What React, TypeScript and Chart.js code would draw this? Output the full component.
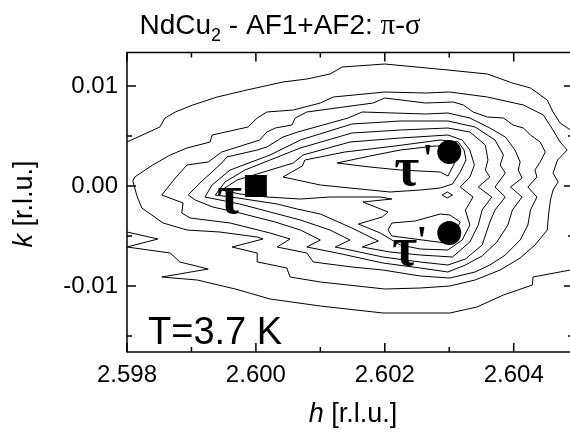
import React, { useEffect, useRef } from "react";
import { Chart, registerables } from "chart.js";

Chart.register(...registerables);

type P = [number, number];

// axes
const hLimits: P = [2.598, 2.60492];
const kLimits: P = [-0.0166, 0.01335];
const hTickValues = [2.598, 2.6, 2.602, 2.604];
const kTickValues = [-0.01, 0, 0.01];
const hMinorTicks = [2.599, 2.601, 2.603];
const kMinorTicks = [-0.015, -0.005, 0.005];

// marked reflections
const tauPoint: P[] = [[2.6, 0.0]];
const tauPrimePoints: P[] = [[2.603, 0.0034], [2.603, -0.0047]];

// texts
const titleMain = "NdCu";
const titleSub = "2";
const titleRest = " - AF1+AF2: ";
const titleGreek = "\u03c0-\u03c3";
const xTitleVar = "h";
const yTitleVar = "k";
const axisUnit = " [r.l.u.]";
const tempLabel = "T=3.7 K";

// contour lines (h, k), outermost first
const contour1Top: P[] = [[2.598,0.0044],[2.59851,0.0059],[2.59859,0.0068],[2.59875,0.0074],[2.59902,0.0081],[2.5994,0.0089],[2.59986,0.0096],[2.60042,0.0104],[2.60079,0.0107],[2.60115,0.0112],[2.60134,0.0119],[2.602,0.0122],[2.60298,0.0116],[2.60359,0.0112],[2.60398,0.0103],[2.60426,0.0098],[2.60452,0.0086],[2.60461,0.0074],[2.60472,0.0063],[2.60488,0.0056],[2.60495,0.0051]];
const contour1Bottom: P[] = [[2.60495,-0.0082],[2.60488,-0.0084],[2.6043,-0.0091],[2.60429,-0.0099],[2.60384,-0.0109],[2.60343,-0.0121],[2.60301,-0.0127],[2.60197,-0.0127],[2.601,-0.012],[2.60022,-0.0113],[2.59968,-0.0103],[2.59909,-0.0094],[2.59854,-0.0091],[2.59926,-0.0083],[2.59882,-0.0076],[2.59867,-0.0067],[2.598,-0.0061],[2.59848,-0.0053],[2.598,-0.0046]];
const contour2: P[] = [[2.59809,0.0005],[2.59812,0.0009],[2.5984,0.0021],[2.59867,0.0031],[2.59893,0.0038],[2.59929,0.0044],[2.59932,0.0051],[2.59988,0.0059],[2.60002,0.0068],[2.60017,0.0074],[2.60058,0.0076],[2.601,0.0083],[2.6012,0.0089],[2.602,0.0094],[2.60263,0.0093],[2.60301,0.0094],[2.60359,0.0089],[2.60415,0.0081],[2.60446,0.0071],[2.60461,0.0056],[2.60472,0.0044],[2.60483,0.0036],[2.60468,0.0026],[2.60461,0.0013],[2.60469,0.0004],[2.60461,-0.0004],[2.60457,-0.0014],[2.60454,-0.0029],[2.60452,-0.0044],[2.60433,-0.0059],[2.6041,-0.0072],[2.60379,-0.0084],[2.6034,-0.0094],[2.60301,-0.01],[2.60255,-0.0102],[2.602,-0.0103],[2.601,-0.0096],[2.60053,-0.0091],[2.60048,-0.0082],[2.60003,-0.0076],[2.60002,-0.0067],[2.59963,-0.0061],[2.60011,-0.0053],[2.60002,-0.0051],[2.59944,-0.0046],[2.59893,-0.0044],[2.59856,-0.0037],[2.59823,-0.0022],[2.59816,-0.0011],[2.59809,0.0005]];
const contour3: P[] = [[2.59854,-0.0009],[2.59875,0.0008],[2.59893,0.0021],[2.59926,0.0024],[2.59947,0.0034],[2.60006,0.0046],[2.60017,0.0054],[2.6003,0.0058],[2.60056,0.0061],[2.60061,0.0068],[2.60079,0.0074],[2.60182,0.0083],[2.602,0.0088],[2.60263,0.0083],[2.60306,0.0084],[2.60322,0.0081],[2.60337,0.0074],[2.60359,0.0069],[2.60384,0.0068],[2.60399,0.0061],[2.60415,0.0058],[2.60426,0.0051],[2.60441,0.0044],[2.60449,0.0034],[2.60441,0.0024],[2.60433,0.0016],[2.60436,0.0009],[2.60422,-0.0001],[2.60436,-0.0011],[2.60426,-0.0024],[2.60422,-0.0039],[2.6041,-0.0054],[2.60387,-0.0069],[2.60363,-0.0079],[2.6034,-0.0086],[2.60301,-0.0092],[2.60255,-0.009],[2.60197,-0.0084],[2.60149,-0.0081],[2.60089,-0.0076],[2.60079,-0.0067],[2.60033,-0.0061],[2.60053,-0.0053],[2.60022,-0.0047],[2.5996,-0.0037],[2.59898,-0.0032],[2.59885,-0.0027],[2.59887,-0.0017],[2.59854,-0.0009]];
const contour4: P[] = [[2.59895,-0.0009],[2.59913,0.0003],[2.59932,0.0014],[2.59947,0.0023],[2.59955,0.0029],[2.60002,0.0036],[2.60017,0.0039],[2.60042,0.0049],[2.60065,0.0054],[2.60143,0.0068],[2.60165,0.0074],[2.60263,0.0072],[2.60298,0.0073],[2.60332,0.0068],[2.60363,0.0058],[2.60387,0.0049],[2.60402,0.0036],[2.6041,0.0024],[2.60407,0.0016],[2.60413,0.0008],[2.60395,-0.0001],[2.60413,-0.0011],[2.60398,-0.0024],[2.60391,-0.0039],[2.60374,-0.0056],[2.60351,-0.007],[2.60325,-0.0079],[2.60298,-0.0086],[2.60255,-0.0082],[2.60197,-0.0077],[2.60126,-0.0067],[2.60079,-0.0061],[2.601,-0.0054],[2.60069,-0.0044],[2.6003,-0.0036],[2.59975,-0.0027],[2.59933,-0.0021],[2.59906,-0.0014],[2.59895,-0.0009]];
const contour5: P[] = [[2.59921,-0.0011],[2.59932,0.0001],[2.5996,0.0016],[2.60022,0.0031],[2.60069,0.0046],[2.60149,0.0062],[2.60224,0.0065],[2.60298,0.0065],[2.6034,0.0059],[2.60371,0.0046],[2.60384,0.0031],[2.60379,0.0021],[2.60387,0.0013],[2.60371,-0.0001],[2.60387,-0.0011],[2.60371,-0.0024],[2.60363,-0.0036],[2.60351,-0.0059],[2.60325,-0.0073],[2.60298,-0.0079],[2.60255,-0.0076],[2.60197,-0.0071],[2.60146,-0.0064],[2.60123,-0.0061],[2.60146,-0.0054],[2.60115,-0.0044],[2.60069,-0.0034],[2.60022,-0.0026],[2.59975,-0.0018],[2.59921,-0.0011]];
const contour6: P[] = [[2.59937,-0.0009],[2.59952,0.0004],[2.59983,0.0016],[2.60022,0.0026],[2.60069,0.0038],[2.60149,0.0053],[2.60224,0.0056],[2.60298,0.0058],[2.60332,0.0054],[2.60356,0.0041],[2.6036,0.0026],[2.60356,0.0016],[2.60363,0.0009],[2.60345,-0.0001],[2.60366,-0.0011],[2.60351,-0.0024],[2.60345,-0.0039],[2.60332,-0.0056],[2.60305,-0.0071],[2.60255,-0.0069],[2.60208,-0.0066],[2.60165,-0.0061],[2.6019,-0.0055],[2.60149,-0.0042],[2.601,-0.0028],[2.60064,-0.0023],[2.60033,-0.0018],[2.59972,-0.0012],[2.59937,-0.0009]];
const contour7: P[] = [[2.59947,-0.0004],[2.59971,0.0006],[2.60058,0.0023],[2.60073,0.0031],[2.60146,0.0044],[2.60224,0.0048],[2.60298,0.0051],[2.6032,0.0046],[2.60332,0.0036],[2.60339,0.0021],[2.60332,0.0009],[2.60317,-0.0001],[2.60337,-0.0011],[2.60325,-0.0024],[2.60332,-0.0039],[2.6032,-0.0054],[2.60298,-0.0064],[2.60255,-0.0063],[2.60224,-0.0059],[2.60193,-0.0047],[2.60159,-0.0038],[2.60196,-0.0031],[2.60205,-0.0026],[2.60166,-0.0016],[2.60211,-0.0013],[2.60193,-0.0011],[2.60115,-0.0011],[2.60069,-0.0013],[2.60017,-0.0011],[2.59975,-0.0008],[2.59947,-0.0004]];
const contour8: P[] = [[2.60042,0.0009],[2.60072,0.002],[2.60076,0.0026],[2.60138,0.0034],[2.60216,0.004],[2.60286,0.0046],[2.60314,0.0044],[2.60323,0.0036],[2.60326,0.0026],[2.60317,0.0014],[2.60305,0.0002],[2.60286,-0.0002],[2.60255,-0.0004],[2.60208,-0.0006],[2.60146,-0.0002],[2.601,0.0001],[2.60042,0.0009]];
const contour9Upper: P[] = [[2.60126,0.0023],[2.60177,0.003],[2.60224,0.0036],[2.60278,0.004],[2.60305,0.004],[2.60314,0.0034],[2.60309,0.0024],[2.60298,0.001],[2.60286,0.0014],[2.60224,0.0016],[2.60177,0.0019],[2.60126,0.0023]];
const contour9Lower: P[] = [[2.60205,-0.0044],[2.60211,-0.0037],[2.60247,-0.0035],[2.60286,-0.0028],[2.60301,-0.0029],[2.60317,-0.0036],[2.60309,-0.0046],[2.60309,-0.0054],[2.60294,-0.0057],[2.60211,-0.005],[2.60205,-0.0044]];
const contourSaddle: P[] = [[2.60289,-0.0009],[2.60297,-0.0006],[2.60305,-0.0009],[2.60297,-0.0012],[2.60289,-0.0009]];

const contours: P[][] = [contour1Top, contour1Bottom, contour2, contour3, contour4, contour5, contour6, contour7, contour8, contour9Upper, contour9Lower, contourSaddle];

const SANS = '"Liberation Sans", Arial, sans-serif';
const SERIF = '"Liberation Serif", "Times New Roman", serif';

function drawInk(ctx: CanvasRenderingContext2D, text: string, font: string, left: number, top: number) {
  ctx.font = font;
  ctx.textAlign = "left";
  ctx.textBaseline = "alphabetic";
  const m = ctx.measureText(text);
  ctx.fillText(text, left + m.actualBoundingBoxLeft, top + m.actualBoundingBoxAscent);
}

const decorPlugin = {
  id: "decor",
  afterDraw(chart: any) {
    const { ctx, chartArea, scales } = chart;
    const { left, right, top, bottom } = chartArea;
    const xs = scales.x;
    const ys = scales.y;
    ctx.save();
    ctx.strokeStyle = "#000";
    ctx.fillStyle = "#000";
    ctx.lineWidth = 1.5;
    ctx.strokeRect(left, top, right - left, bottom - top);
    const major = 9;
    const minor = 5;
    ctx.beginPath();
    const xt = (v: number, len: number) => {
      const px = xs.getPixelForValue(v);
      ctx.moveTo(px, bottom); ctx.lineTo(px, bottom - len);
      ctx.moveTo(px, top); ctx.lineTo(px, top + len);
    };
    const yt = (v: number, len: number) => {
      const py = ys.getPixelForValue(v);
      ctx.moveTo(left, py); ctx.lineTo(left + len, py);
      ctx.moveTo(right, py); ctx.lineTo(right - len, py);
    };
    hTickValues.forEach((v) => xt(v, major));
    hMinorTicks.forEach((v) => xt(v, minor));
    kTickValues.forEach((v) => yt(v, major));
    kMinorTicks.forEach((v) => yt(v, minor));
    ctx.stroke();

    // title
    const mainFont = `28px ${SANS}`;
    const subFont = `18px ${SANS}`;
    const greekFont = `29px ${SERIF}`;
    const parts: [string, string, number][] = [
      [titleMain, mainFont, 0],
      [titleSub, subFont, 7],
      [titleRest, mainFont, 0],
      [titleGreek, greekFont, 0],
    ];
    let total = 0;
    parts.forEach(([t, f]) => { ctx.font = f; total += ctx.measureText(t).width; });
    let cx = 280 - total / 2;
    ctx.textAlign = "left";
    ctx.textBaseline = "alphabetic";
    parts.forEach(([t, f, dy]) => {
      ctx.font = f;
      ctx.fillText(t, cx, 34 + dy);
      cx += ctx.measureText(t).width;
    });

    // x axis title
    const axFont = `27px ${SANS}`;
    const axItalic = `italic 27px ${SANS}`;
    ctx.font = axItalic;
    const wv = ctx.measureText(xTitleVar).width;
    ctx.font = axFont;
    const wu = ctx.measureText(axisUnit).width;
    const x0 = 353 - (wv + wu) / 2;
    ctx.font = axItalic;
    ctx.fillText(xTitleVar, x0, 422);
    ctx.font = axFont;
    ctx.fillText(axisUnit, x0 + wv, 422);

    // y axis title
    ctx.save();
    ctx.translate(32, 204);
    ctx.rotate(-Math.PI / 2);
    ctx.font = axItalic;
    const kv = ctx.measureText(yTitleVar).width;
    ctx.font = axFont;
    const ku = ctx.measureText(axisUnit).width;
    const y0 = -(kv + ku) / 2;
    ctx.font = axItalic;
    ctx.fillText(yTitleVar, y0, 0);
    ctx.font = axFont;
    ctx.fillText(axisUnit, y0 + kv, 0);
    ctx.restore();

    // temperature
    drawInk(ctx, tempLabel, `38px ${SANS}`, left + 21, bottom - 35);

    // tau labels
    const tauFont = `bold 54px ${SERIF}`;
    const primeFont = `bold 40px ${SERIF}`;
    const sx = xs.getPixelForValue(tauPoint[0][0]);
    const sy = ys.getPixelForValue(tauPoint[0][1]);
    drawInk(ctx, "\u03c4", tauFont, sx - 38, sy + 2);
    const c1x = xs.getPixelForValue(tauPrimePoints[0][0]);
    const c1y = ys.getPixelForValue(tauPrimePoints[0][1]);
    drawInk(ctx, "\u03c4", tauFont, c1x - 54, c1y + 8);
    drawInk(ctx, "'", primeFont, c1x - 24, c1y - 7);
    const c2x = xs.getPixelForValue(tauPrimePoints[1][0]);
    const c2y = ys.getPixelForValue(tauPrimePoints[1][1]);
    drawInk(ctx, "\u03c4", tauFont, c2x - 56, c2y + 7);
    drawInk(ctx, "'", primeFont, c2x - 30, c2y - 6);
    ctx.restore();
  },
};

export default function App() {
  const ref = useRef<HTMLCanvasElement | null>(null);
  useEffect(() => {
    if (!ref.current) return;
    const toXY = (arr: P[]) => arr.map(([h, k]) => ({ x: h, y: k }));
    const datasets: any[] = [
      {
        label: "tau",
        data: toXY(tauPoint),
        pointStyle: "rect",
        pointRadius: 15.5,
        backgroundColor: "#000",
        borderColor: "#000",
        borderWidth: 0,
        showLine: false,
        order: 0,
      },
      {
        label: "tauPrime",
        data: toXY(tauPrimePoints),
        pointStyle: "circle",
        pointRadius: 12,
        backgroundColor: "#000",
        borderColor: "#000",
        borderWidth: 0,
        showLine: false,
        order: 0,
      },
      ...contours.map((c, i) => ({
        label: "contour" + i,
        data: toXY(c),
        showLine: true,
        pointRadius: 0,
        borderColor: "#000",
        borderWidth: 1,
        fill: false,
        tension: 0,
        order: 1,
      })),
    ];
    const chart = new Chart(ref.current, {
      type: "scatter",
      data: { datasets },
      options: {
        responsive: false,
        animation: false,
        devicePixelRatio: 1,
        events: [],
        layout: { autoPadding: false, padding: { top: 52.5, right: 2, left: 0, bottom: 0 } },
        plugins: { legend: { display: false }, tooltip: { enabled: false }, title: { display: false } },
        scales: {
          x: {
            type: "linear",
            min: hLimits[0],
            max: hLimits[1],
            grid: { display: false, drawTicks: false },
            border: { display: false },
            afterBuildTicks: (s: any) => { s.ticks = hTickValues.map((v) => ({ value: v })); },
            afterFit: (s: any) => { s.height = 83; s.paddingLeft = 0; s.paddingRight = 0; },
            ticks: {
              color: "#000",
              padding: 9,
              maxRotation: 0,
              autoSkip: false,
              font: { family: SANS, size: 24 },
              callback: (v: any) => Number(v).toFixed(3),
            },
          },
          y: {
            type: "linear",
            min: kLimits[0],
            max: kLimits[1],
            grid: { display: false, drawTicks: false },
            border: { display: false },
            afterBuildTicks: (s: any) => { s.ticks = kTickValues.map((v) => ({ value: v })); },
            afterFit: (s: any) => { s.width = 127; s.paddingTop = 0; s.paddingBottom = 0; },
            ticks: {
              color: "#000",
              padding: 9,
              autoSkip: false,
              font: { family: SANS, size: 24 },
              callback: (v: any) => Number(v).toFixed(2),
            },
          },
        },
      },
      plugins: [decorPlugin],
    } as any);
    return () => chart.destroy();
  }, []);
  return (
    <div style={{ position: "fixed", left: 0, top: 0, width: 570, height: 435, overflow: "hidden", background: "#fff" }}>
      <canvas ref={ref} width={575} height={435} style={{ display: "block", width: 575, height: 435 }} />
    </div>
  );
}
